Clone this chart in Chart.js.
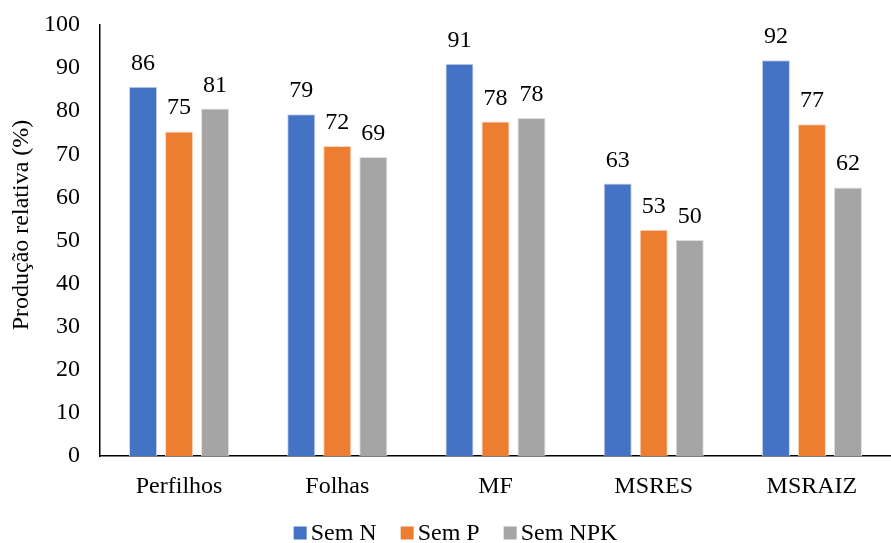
<!DOCTYPE html>
<html>
<head>
<meta charset="utf-8">
<script src="https://cdn.jsdelivr.net/npm/chart.js@4/dist/chart.umd.min.js"></script>
<style>
html,body{margin:0;padding:0;background:#fff;overflow:hidden;}
#wrap{width:891px;height:543px;position:relative;}
</style>
</head>
<body>
<div id="wrap"><canvas id="c" width="891" height="543"></canvas></div>
<script>
const categories = ["Perfilhos", "Folhas", "MF", "MSRES", "MSRAIZ"];
const semN = [85.7, 79.3, 91.0, 63.2, 91.8];
const semP = [75.3, 71.9, 77.6, 52.5, 77.0];
const semNPK = [80.6, 69.4, 78.4, 50.1, 62.3];
const seriesNames = ["Sem N", "Sem P", "Sem NPK"];
const seriesColors = ["#4472C4", "#ED7D31", "#A5A5A5"];
const seriesEdges = ["#c5d3ee", "#fbd7bf", "#dedede"];
const yTicks = [0, 10, 20, 30, 40, 50, 60, 70, 80, 90, 100];
const axisTitle = "Produção relativa (%)";

const FONT = "'Liberation Serif', 'Times New Roman', serif";
const FS = 24;

const labelPlugin = {
  id: 'barLabels',
  afterDatasetsDraw(chart) {
    const ctx = chart.ctx;
    ctx.save();
    ctx.font = FS + "px " + FONT;
    ctx.fillStyle = "#000";
    ctx.textAlign = "center";
    ctx.textBaseline = "alphabetic";
    chart.data.datasets.forEach((ds, i) => {
      const meta = chart.getDatasetMeta(i);
      meta.data.forEach((bar, j) => {
        ctx.fillText(String(Math.round(ds.data[j])), bar.x, bar.y - 17);
      });
    });
    ctx.restore();
  },
  afterDraw(chart) {
    const ctx = chart.ctx;
    ctx.save();
    ctx.font = FS + "px " + FONT;
    ctx.fillStyle = "#000";
    ctx.textAlign = "center";
    ctx.textBaseline = "middle";
    ctx.translate(22, 225);
    ctx.rotate(-Math.PI / 2);
    ctx.fillText(axisTitle, 0, 0);
    ctx.restore();

    ctx.save();
    ctx.font = FS + "px " + FONT;
    ctx.textBaseline = "middle";
    ctx.textAlign = "left";
    const box = 13, gap = 4, itemGap = 24;
    const widths = seriesNames.map(n => ctx.measureText(n).width);
    let total = 0;
    widths.forEach((w, i) => { total += box + gap + w + (i < widths.length - 1 ? itemGap : 0); });
    let x = chart.width / 2 + 10 - total / 2;
    const y = 533;
    seriesNames.forEach((n, i) => {
      ctx.fillStyle = seriesColors[i];
      ctx.fillRect(x, y - box / 2, box, box);
      ctx.fillStyle = "#000";
      ctx.fillText(n, x + box + gap, y + 1);
      x += box + gap + widths[i] + itemGap;
    });
    ctx.restore();
  }
};

function build() {
  new Chart(document.getElementById('c'), {
    type: 'bar',
    data: {
      labels: categories,
      datasets: seriesNames.map((n, i) => ({
        label: n,
        data: [semN, semP, semNPK][i],
        backgroundColor: seriesColors[i],
        borderColor: seriesEdges[i],
        borderWidth: 1
      }))
    },
    options: {
      responsive: false,
      animation: false,
      devicePixelRatio: 1,
      layout: {padding: {top: 25, right: 0, left: 0, bottom: 34}},
      datasets: {bar: {categoryPercentage: 0.683, barPercentage: 0.78}},
      plugins: {
        tooltip: {enabled: false},
        legend: {display: false}
      },
      scales: {
        x: {
          afterFit(axis) { axis.height = 53; axis.paddingLeft = 0; axis.paddingRight = 0; },
          grid: {display: false, drawTicks: false},
          border: {display: true, color: '#000', width: 1.5},
          ticks: {font: {family: FONT, size: FS}, color: '#000', padding: 16}
        },
        y: {
          min: 0, max: 100,
          afterBuildTicks(axis) { axis.ticks = yTicks.map(v => ({value: v})); },
          afterFit(axis) { axis.width = 100; axis.paddingTop = 0; axis.paddingBottom = 0; },
          grid: {display: false, drawTicks: false},
          border: {display: true, color: '#000', width: 1.5},
          ticks: {font: {family: FONT, size: FS}, color: '#000', padding: 20}
        }
      }
    },
    plugins: [labelPlugin]
  });
}

if (document.fonts && document.fonts.load) {
  document.fonts.load(FS + "px 'Liberation Serif'").then(build, build);
} else {
  build();
}
</script>
</body>
</html>
